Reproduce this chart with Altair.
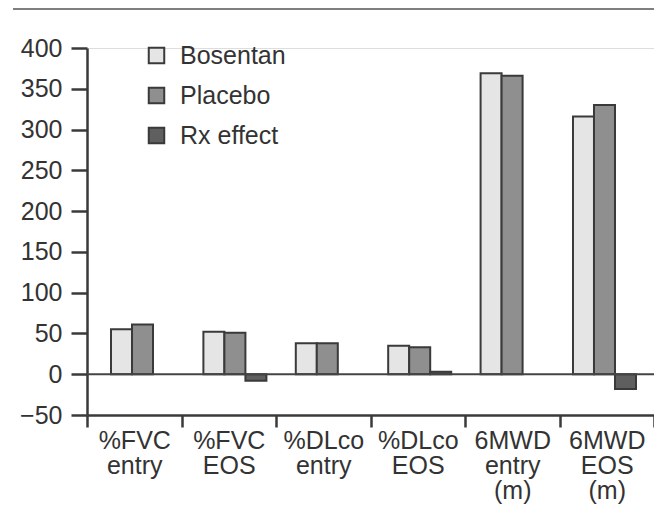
import altair as alt
import pandas as pd

categories = ["%FVC\nentry", "%FVC\nEOS", "%DLco\nentry", "%DLco\nEOS", "6MWD\nentry\n(m)", "6MWD\nEOS\n(m)"]
series = ["Bosentan", "Placebo", "Rx effect"]
bosentan = [55, 52, 38, 35, 369, 316]
placebo = [61, 51, 38, 33, 366, 330]
rx_effect = [None, -8, None, 3, None, -18]
colors = ["#e5e5e5", "#8f8f8f", "#5f5f5f"]

rows = []
for i, c in enumerate(categories):
    for s, vals in zip(series, [bosentan, placebo, rx_effect]):
        if vals[i] is not None:
            rows.append({"cat": c, "series": s, "value": vals[i]})
df = pd.DataFrame(rows)
cat_df = pd.DataFrame({"cat": categories})

FONT = "Liberation Sans"
TXT = "#333333"
LINE = "#3a3a3a"

y_enc = alt.Y("value:Q", title=None,
              scale=alt.Scale(domain=[-50, 400], nice=False, zero=False),
              axis=alt.Axis(values=list(range(-50, 401, 50)), labelFontSize=25, labelFont=FONT,
                            labelColor=TXT, tickSize=16, tickWidth=2.5, tickColor=LINE,
                            domainColor=LINE, domainWidth=2.5, labelPadding=9, grid=False,
                            labelExpr="datum.value < 0 ? '\u221250' : datum.label"))

bars = alt.Chart(df).mark_bar(stroke=LINE, strokeWidth=2).encode(
    x=alt.X("cat:N", sort=categories, title=None,
            scale=alt.Scale(range=[24, 549], paddingInner=0.318, paddingOuter=0),
            axis=None),
    xOffset=alt.XOffset("series:N", sort=series, scale=alt.Scale(domain=series)),
    y=y_enc,
    color=alt.Color("series:N", sort=series,
                    scale=alt.Scale(domain=series, range=colors),
                    legend=alt.Legend(title=None, orient="none", legendX=57, legendY=-5,
                                      labelFontSize=25, labelFont=FONT, labelColor=TXT,
                                      labelOffset=11, rowPadding=14, symbolType="square",
                                      symbolSize=240, symbolStrokeWidth=2,
                                      symbolStrokeColor=LINE, symbolOpacity=1)),
)

cat_axis = alt.Chart(cat_df).mark_point(opacity=0).encode(
    x=alt.X("cat:N", sort=categories, title=None,
            scale=alt.Scale(paddingInner=0, paddingOuter=0),
            axis=alt.Axis(orient="bottom", labelAngle=0, labelFontSize=25, labelFont=FONT,
                          labelColor=TXT, labelLineHeight=25, labelPadding=1,
                          tickBand="extent", tickSize=12, tickWidth=2.5, tickColor=LINE,
                          domainColor=LINE, domainWidth=2.5,
                          labelExpr="split(datum.label, '\\n')")),
)

zero_df = pd.DataFrame({"v": [0]})
zero_line = alt.Chart(zero_df).mark_rule(color="#444444", strokeWidth=2).encode(
    y=alt.Y("v:Q")
)
header_line = alt.Chart(zero_df).mark_rule(color="#555555", strokeWidth=1.5).encode(
    x=alt.value(-74), x2=alt.value(568), y=alt.value(-39)
)

chart = alt.layer(bars, cat_axis, zero_line, header_line).resolve_scale(
    x="independent"
).properties(
    width=567, height=367,
    padding={"left": 79, "top": 40, "right": 0, "bottom": 92},
    autosize=alt.AutoSizeParams(type="none"),
).configure_view(stroke=None).configure(background="white")

chart.save("out.html", embed_options={"renderer": "svg", "actions": False})
